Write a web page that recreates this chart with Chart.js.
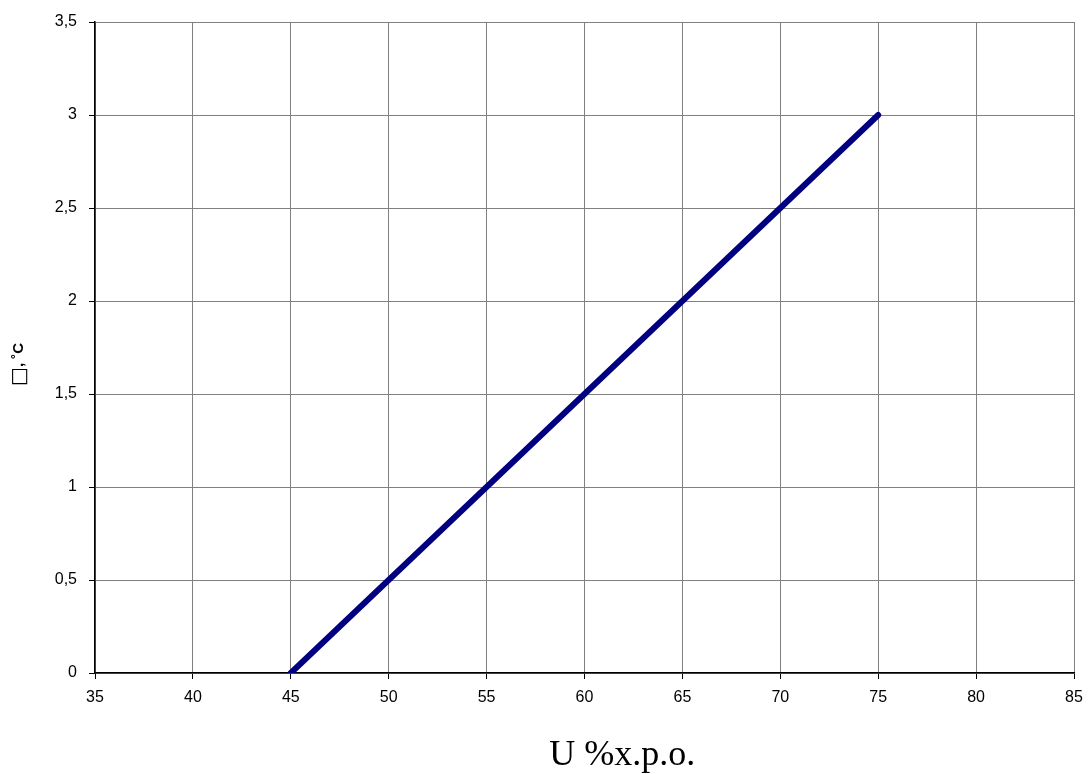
<!DOCTYPE html>
<html>
<head>
<meta charset="utf-8">
<script src="https://cdn.jsdelivr.net/npm/chart.js@4.4.0/dist/chart.umd.min.js"></script>
<style>
  html, body { margin: 0; padding: 0; background: #fff; }
  #wrap { width: 1089px; height: 774px; }
</style>
</head>
<body>
<div id="wrap"><canvas id="grafica"></canvas></div>
<script>
// humidity, % -> temperature difference
const humedad = [45, 75];
const delta = [0, 3];
const xTicks = [35, 40, 45, 50, 55, 60, 65, 70, 75, 80, 85];
const yTicks = [0, 0.5, 1, 1.5, 2, 2.5, 3, 3.5];

const puntos = humedad.map((h, i) => ({ x: h, y: delta[i] }));

// axis titles: serif one under the plot, bold one rotated on the left
const titulos = {
  id: 'titulos',
  afterDraw(chart) {
    const ctx = chart.ctx;
    const a = chart.chartArea;
    ctx.save();
    ctx.fillStyle = '#000';
    ctx.font = '36px "Liberation Serif", "Times New Roman", serif';
    ctx.textAlign = 'center';
    ctx.textBaseline = 'alphabetic';
    ctx.fillText('U %x.p.o.', a.left + (a.right - a.left) * 0.5385, 765);

    // symbol box drawn a bit larger than the rest of the title
    ctx.translate(19, 386);
    ctx.rotate(-Math.PI / 2);
    ctx.textAlign = 'left';
    ctx.textBaseline = 'middle';
    ctx.font = '20px "DejaVu Sans", sans-serif';
    const simbolo = '\u25A1';
    ctx.fillText(simbolo, 0, 1);
    const w = ctx.measureText(simbolo).width;
    ctx.font = 'bold 15px "Liberation Sans", Arial, sans-serif';
    ctx.fillText(', \u02DAC', w, 0);
    ctx.restore();
  }
};

const coma = v => String(v).replace('.', ',');
const fuenteTicks = { family: 'Liberation Sans, Arial, sans-serif', size: 16 };

const ctx = document.querySelector('#grafica').getContext('2d');
const myChart = new Chart(ctx, {
  type: 'scatter',
  data: {
    datasets: [{
      data: puntos,
      showLine: true,
      borderColor: '#000080',
      borderWidth: 6,
      borderCapStyle: 'round',
      pointRadius: 0,
      fill: false
    }]
  },
  options: {
    responsive: true,
    maintainAspectRatio: false,
    animation: false,
    layout: { padding: { top: 22, right: 15, bottom: 0, left: 0 } },
    plugins: { legend: { display: false }, tooltip: { enabled: false } },
    scales: {
      x: {
        type: 'linear',
        min: 35, max: 85,
        afterBuildTicks: s => { s.ticks = xTicks.map(v => ({ value: v })); },
        afterFit: s => { s.height = 101; s.paddingLeft = 0; s.paddingRight = 0; },
        ticks: {
          color: '#000',
          font: fuenteTicks,
          padding: 9,
          maxRotation: 0,
          callback: v => coma(v)
        },
        grid: { color: '#808080', tickColor: '#000', tickLength: 6, lineWidth: 1 },
        border: { color: '#000', width: 1.5 }
      },
      y: {
        min: 0, max: 3.5,
        afterBuildTicks: s => { s.ticks = yTicks.map(v => ({ value: v })); },
        afterFit: s => { s.width = 95; s.paddingTop = 0; s.paddingBottom = 0; },
        ticks: {
          color: '#000',
          font: fuenteTicks,
          padding: 12,
          callback: v => coma(v)
        },
        grid: { color: '#808080', tickColor: '#000', tickLength: 6, lineWidth: 1 },
        border: { color: '#000', width: 1.5 }
      }
    }
  },
  plugins: [titulos]
});
</script>
</body>
</html>
